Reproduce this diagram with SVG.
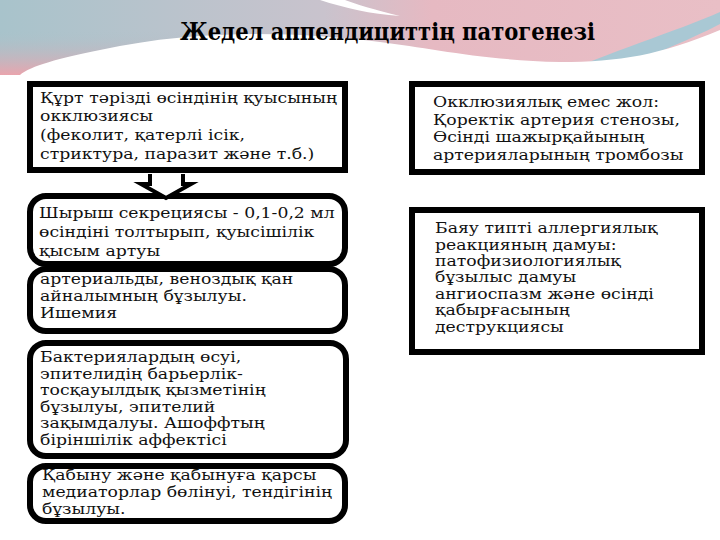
<svg xmlns="http://www.w3.org/2000/svg" width="720" height="540" viewBox="0 0 720 540">
<defs>
<linearGradient id="bg" x1="0" y1="0" x2="1" y2="0">
<stop offset="0" stop-color="#a8c3cb"/>
<stop offset="0.45" stop-color="#c9c3cd"/>
<stop offset="0.6" stop-color="#e6b9c2"/>
<stop offset="1" stop-color="#e9bfc6"/>
</linearGradient>
<linearGradient id="lp" x1="0" y1="0" x2="0" y2="1">
<stop offset="0" stop-color="#a8c3cb" stop-opacity="0"/>
<stop offset="1" stop-color="#eaa4ad"/>
</linearGradient>
<style>
.t{font-family:"DejaVu Serif",serif;font-size:15px;fill:#111}
.b{fill:#fff;stroke:#000;stroke-width:6}
</style>
</defs>
<rect width="720" height="540" fill="#fff"/>
<g id="background">
<rect x="0" y="0" width="720" height="75" fill="url(#bg)"/>
<rect x="0" y="30" width="200" height="45" fill="url(#lp)"/>
<path d="M560,75 C600,55 680,30 720,12 L720,24 C690,40 640,60 600,75 Z" fill="#a9c8d4"/>
<path d="M0,75 L0,80 L720,80 L720,30 C660,55 620,62 560,62 C480,60 430,48 380,42 C300,32 200,28 100,50 C60,58 30,66 20,75 Z" fill="#fff"/>
<path d="M320,0 C345,8 370,14 400,16 C375,10 355,4 345,0 Z" fill="#fff"/>
</g>
<g id="title">
<text x="180" y="40" textLength="415" lengthAdjust="spacingAndGlyphs" font-family="'DejaVu Serif',serif" font-weight="bold" font-size="25" fill="#000">Жедел аппендициттің патогенезі</text>
</g>
<g id="node1">
<rect class="b" x="30" y="84" width="315" height="86"/>
<g transform="translate(40,0) scale(1.15,1)">
<text class="t" x="0" y="103">Құрт тәрізді өсіндінің қуысының</text>
<text class="t" x="0" y="121">окклюзиясы</text>
<text class="t" x="0" y="140">(феколит, қатерлі ісік,</text>
<text class="t" x="0" y="159">стриктура, паразит және т.б.)</text>
</g>
</g>
<g id="node2">
<rect class="b" x="30" y="196" width="315" height="68" rx="16"/>
<g transform="translate(39,0) scale(1.15,1)">
<text class="t" x="0" y="218">Шырыш секрециясы - 0,1-0,2 мл</text>
<text class="t" x="0" y="237">өсіндіні толтырып, қуысішілік</text>
<text class="t" x="0" y="256">қысым артуы</text>
</g>
</g>
<g id="node3">
<rect class="b" x="30" y="269" width="315" height="62" rx="16"/>
<g transform="translate(40,0) scale(1.15,1)">
<text class="t" x="0" y="284">артериальды, веноздық қан</text>
<text class="t" x="0" y="301">айналымның бұзылуы.</text>
<text class="t" x="0" y="318">Ишемия</text>
</g>
</g>
<g id="node4">
<rect class="b" x="30" y="343" width="316" height="113" rx="16"/>
<g transform="translate(40,0) scale(1.15,1)">
<text class="t" x="0" y="362">Бактериялардың өсуі,</text>
<text class="t" x="0" y="379">эпителидің барьерлік-</text>
<text class="t" x="0" y="395">тосқауылдық қызметінің</text>
<text class="t" x="0" y="412">бұзылуы, эпителий</text>
<text class="t" x="0" y="428">зақымдалуы. Ашоффтың</text>
<text class="t" x="0" y="445">біріншілік аффектісі</text>
</g>
</g>
<g id="node5">
<rect class="b" x="30" y="466" width="315" height="55" rx="16"/>
<g transform="translate(42,0) scale(1.15,1)">
<text class="t" x="0" y="480">Қабыну және қабынуға қарсы</text>
<text class="t" x="0" y="497">медиаторлар бөлінуі, тендігінің</text>
<text class="t" x="0" y="514">бұзылуы.</text>
</g>
</g>
<g id="node6">
<rect class="b" x="412" y="84" width="290" height="88"/>
<g transform="translate(433,0) scale(1.15,1)">
<text class="t" x="0" y="107">Окклюзиялық емес жол:</text>
<text class="t" x="0" y="125">Қоректік артерия стенозы,</text>
<text class="t" x="0" y="142">Өсінді шажырқайының</text>
<text class="t" x="0" y="160">артерияларының тромбозы</text>
</g>
</g>
<g id="node7">
<rect class="b" x="412" y="210" width="290" height="142"/>
<g transform="translate(435,0) scale(1.15,1)">
<text class="t" x="0" y="233">Баяу типті аллергиялық</text>
<text class="t" x="0" y="250">реакцияның дамуы:</text>
<text class="t" x="0" y="266">патофизиологиялық</text>
<text class="t" x="0" y="282">бұзылыс дамуы</text>
<text class="t" x="0" y="299">ангиоспазм және өсінді</text>
<text class="t" x="0" y="315">қабырғасының</text>
<text class="t" x="0" y="332">деструкциясы</text>
</g>
</g>
<g id="connectors">
<path d="M150,174 V184 H141 L166,198 L191,184 H183 V174" fill="#fff" stroke="#000" stroke-width="4" stroke-linejoin="miter"/>
</g>
</svg>
